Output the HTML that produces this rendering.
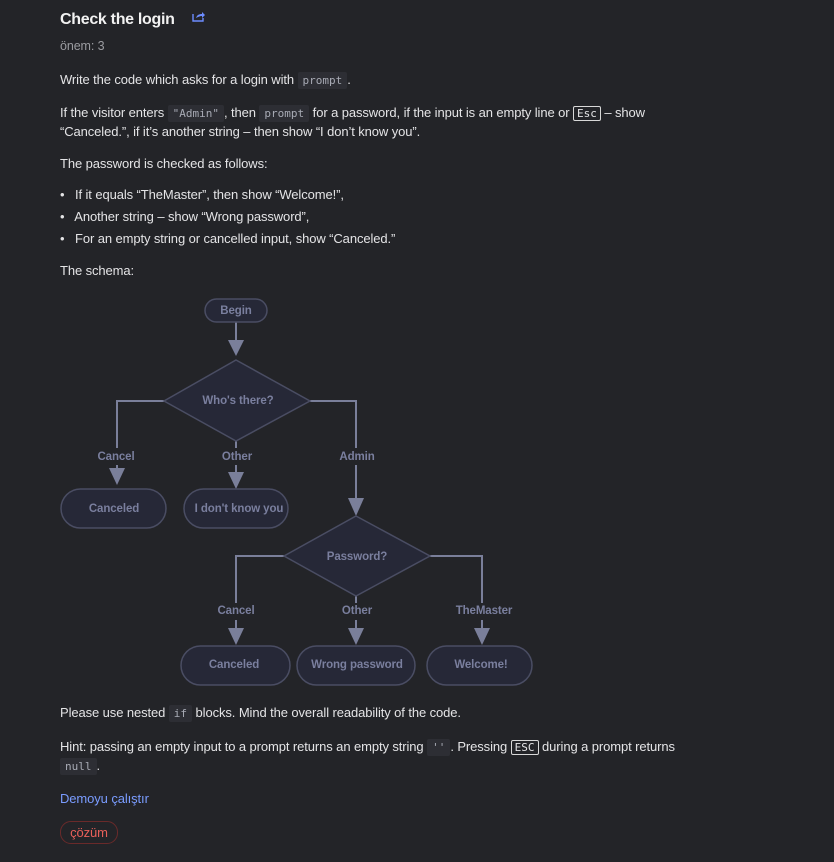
<!DOCTYPE html>
<html><head><meta charset="utf-8"><style>
html,body{margin:0;padding:0;background:#232428;}
body{width:834px;height:862px;position:relative;overflow:hidden;font-family:"Liberation Sans",sans-serif;color:#e4e4e6;font-size:13px;letter-spacing:-0.1px;}
.t{position:absolute;left:60px;white-space:nowrap;}
code{font-family:"DejaVu Sans Mono","Liberation Mono",monospace;font-size:11px;letter-spacing:0;color:#a8abb5;background:#2d2e34;padding:2px 5px;border-radius:2px;}
kbd{font-family:"DejaVu Sans Mono","Liberation Mono",monospace;font-size:11px;letter-spacing:0;color:#e4e4e6;border:1px solid #d8d8d8;padding:0 3px;border-radius:2px;}
</style></head><body>
<div class="t" style="top:11px;font-size:16px;font-weight:bold;color:#f2f2f2;letter-spacing:-0.3px;">Check the login</div>
<svg style="position:absolute;left:192px;top:10px" width="14" height="12" viewBox="0 0 14 12"><path d="M1 4v7h10V8" fill="none" stroke="#6c8cff" stroke-width="1.4"/><path d="M4 8c1-3 3-4 6-4V2l3 3-3 3V6c-2 0-4 1-6 2z" fill="#6c8cff"/></svg>
<div class="t" style="top:39px;color:#9a9ba0;font-size:12.5px;">önem: 3</div>
<div class="t" style="top:72px;">Write the code which asks for a login with <code>prompt</code>.</div>
<div class="t" style="top:105px;">If the visitor enters <code>"Admin"</code>, then <code>prompt</code> for a password, if the input is an empty line or <kbd>Esc</kbd> – show</div>
<div class="t" style="top:124px;">“Canceled.”, if it’s another string – then show “I don’t know you”.</div>
<div class="t" style="top:156px;">The password is checked as follows:</div>
<div class="t" style="top:187px;">•&nbsp;&nbsp; If it equals “TheMaster”, then show “Welcome!”,</div>
<div class="t" style="top:209px;">•&nbsp;&nbsp; Another string – show “Wrong password”,</div>
<div class="t" style="top:231px;">•&nbsp;&nbsp; For an empty string or cancelled input, show “Canceled.”</div>
<div class="t" style="top:263px;">The schema:</div>

<svg style="position:absolute;left:0;top:0" width="834" height="862" font-family="Liberation Sans,sans-serif" font-size="11.5" font-weight="bold">
<g stroke="#7a7f9a" stroke-width="2" fill="none">
<path d="M236 322V342"/><path d="M164 401H117V448"/><path d="M117 465V470"/><path d="M236 441V448"/><path d="M236 465V472"/>
<path d="M310 401H356V448"/><path d="M356 465V500"/>
<path d="M284 556H236V603"/><path d="M236 620V628"/><path d="M356 596V603"/><path d="M356 620V628"/><path d="M430 556H482V603"/><path d="M482 620V628"/>
</g>
<g fill="#7a7f9a">
<path d="M228 340h16l-8 16z"/><path d="M109 468h16l-8 17z"/><path d="M228 472h16l-8 17z"/><path d="M348 498h16l-8 18z"/>
<path d="M228 628h16l-8 17z"/><path d="M348 628h16l-8 17z"/><path d="M474 628h16l-8 17z"/>
</g>
<g fill="#262837" stroke="#4a4d63" stroke-width="1.5">
<rect x="205" y="299" width="62" height="23" rx="11.5"/>
<path d="M236 360L310 401L236 441L164 401Z"/>
<rect x="61" y="489" width="105" height="39" rx="19.5"/>
<rect x="184" y="489" width="104" height="39" rx="19.5"/>
<path d="M356 516L430 556L356 596L284 556Z"/>
<rect x="181" y="646" width="109" height="39" rx="19.5"/>
<rect x="297" y="646" width="118" height="39" rx="19.5"/>
<rect x="427" y="646" width="105" height="39" rx="19.5"/>
</g>
<g fill="#7a7f9e" text-anchor="middle">
<text x="236" y="314">Begin</text>
<text x="238" y="404">Who's there?</text>
<text x="116" y="460">Cancel</text><text x="237" y="460">Other</text><text x="357" y="460">Admin</text>
<text x="114" y="512">Canceled</text><text x="239" y="512">I don't know you</text>
<text x="357" y="560">Password?</text>
<text x="236" y="614">Cancel</text><text x="357" y="614">Other</text><text x="484" y="614">TheMaster</text>
<text x="234" y="668">Canceled</text><text x="357" y="668">Wrong password</text><text x="481" y="668">Welcome!</text>
</g>
</svg>

<div class="t" style="top:705px;">Please use nested <code>if</code> blocks. Mind the overall readability of the code.</div>
<div class="t" style="top:739px;">Hint: passing an empty input to a prompt returns an empty string <code>''</code>. Pressing <kbd>ESC</kbd> during a prompt returns</div>
<div class="t" style="top:758px;"><code>null</code>.</div>
<div class="t" style="top:791px;color:#7a9cff;">Demoyu çalıştır</div>
<div style="position:absolute;left:60px;top:821px;width:56px;height:21px;border:1px solid #6a2a2a;border-radius:11px;color:#e9605a;font-size:13px;text-align:center;line-height:21px;letter-spacing:-0.1px;">çözüm</div>
</body></html>
